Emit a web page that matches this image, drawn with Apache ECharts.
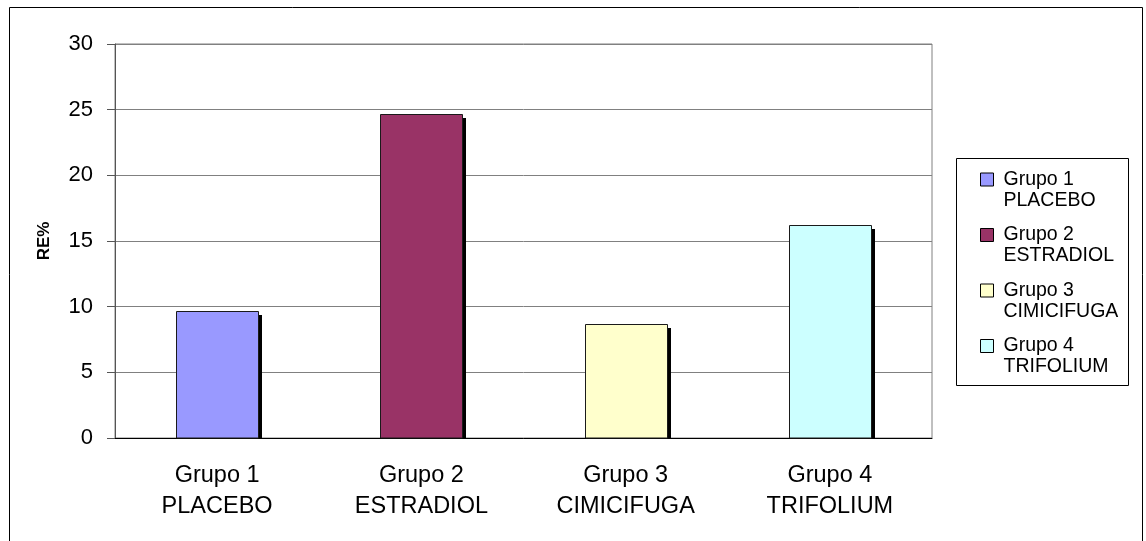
<!DOCTYPE html>
<html>
<head>
<meta charset="utf-8">
<script src="https://cdn.jsdelivr.net/npm/echarts@6/dist/echarts.min.js"></script>
<style>
  html, body { margin: 0; padding: 0; background: #fff; }
  #chart { width: 1146px; height: 541px; }
</style>
</head>
<body>
<div id="chart"></div>
<script>
// Groups on the category axis and their RE% values
const categories = ['Grupo 1\nPLACEBO', 'Grupo 2\nESTRADIOL', 'Grupo 3\nCIMICIFUGA', 'Grupo 4\nTRIFOLIUM'];
const values = [9.67, 24.67, 8.66, 16.25];
const colors = ['#9999FF', '#993366', '#FFFFCC', '#CCFFFF'];
const yTicks = [0, 5, 10, 15, 20, 25, 30];

const FONT = '"Liberation Sans", Arial, sans-serif';

// Bar with a hard black drop shadow, drawn through the chart's own scales
function renderBar(params, api) {
  const cat = api.value(0);
  const v = api.value(1);
  const top = api.coord([cat, v]);
  const base = api.coord([cat, 0]);
  const band = api.size([1, 0])[0];
  const w = Math.round(band * 0.4);
  const left = Math.round(top[0] - w / 2);
  const y0 = Math.round(top[1]);
  const y1 = Math.round(base[1]);
  const off = 4;
  return {
    type: 'group',
    children: [
      { type: 'rect', shape: { x: left + off, y: y0 + off, width: w, height: y1 - y0 - off },
        style: { fill: '#000' } },
      { type: 'rect', shape: { x: left + 0.5, y: y0 + 0.5, width: w, height: y1 - y0 - 0.5 },
        style: { fill: api.visual('color'), stroke: '#1a1a1a', lineWidth: 1 } }
    ]
  };
}

const series = categories.map((name, i) => ({
  name: name,
  type: 'custom',
  renderItem: renderBar,
  itemStyle: { color: colors[i] },
  encode: { x: 0, y: 1 },
  data: [[i, values[i]]],
  silent: true
}));

const chart = echarts.init(document.getElementById('chart'), null, { renderer: 'canvas' });
chart.setOption({
  animation: false,
  backgroundColor: '#fff',
  textStyle: { fontFamily: FONT },
  grid: {
    left: 115, right: 214, top: 44, bottom: 103,
    show: true, borderColor: '#808080', borderWidth: 1, backgroundColor: 'transparent'
  },
  graphic: [
    { type: 'rect', shape: { x: 9.5, y: 7.5, width: 1133, height: 545 },
      style: { fill: 'none', stroke: '#000', lineWidth: 1 }, z: -1 },
    { type: 'rect', shape: { x: 956.5, y: 158.5, width: 172, height: 227 },
      style: { fill: 'none', stroke: '#000', lineWidth: 1 }, z: -1 }
  ],
  legend: {
    orient: 'vertical',
    left: 980,
    top: 148,
    padding: 0,
    itemGap: -7.5,
    itemWidth: 13,
    itemHeight: 13,
    icon: 'rect',
    itemStyle: { borderColor: '#000', borderWidth: 1 },
    // a leading blank line puts the first text line level with the swatch
    formatter: name => '\n' + name,
    textStyle: {
      fontFamily: FONT, fontSize: 19.5, lineHeight: 21, color: '#000',
      padding: [0, 0, 0, 5]
    },
    data: categories
  },
  xAxis: {
    type: 'category',
    data: categories,
    axisLine: { lineStyle: { color: '#000', width: 1 } },
    axisTick: { length: 8, lineStyle: { color: '#404040' } },
    axisLabel: { fontFamily: FONT, fontSize: 23.5, lineHeight: 31, color: '#000', margin: 22 },
    splitLine: { show: false }
  },
  yAxis: {
    type: 'value',
    min: yTicks[0],
    max: yTicks[yTicks.length - 1],
    interval: 5,
    name: 'RE%',
    nameLocation: 'middle',
    nameGap: 62,
    nameTextStyle: { fontFamily: FONT, fontSize: 17, fontWeight: 'bold', color: '#000' },
    axisLine: { show: true, lineStyle: { color: '#555', width: 1 } },
    axisTick: { show: true, length: 8, lineStyle: { color: '#555' } },
    axisLabel: { fontFamily: FONT, fontSize: 22, color: '#000', margin: 22 },
    splitLine: { show: true, lineStyle: { color: '#808080', width: 1 } }
  },
  series: series
});
</script>
</body>
</html>
